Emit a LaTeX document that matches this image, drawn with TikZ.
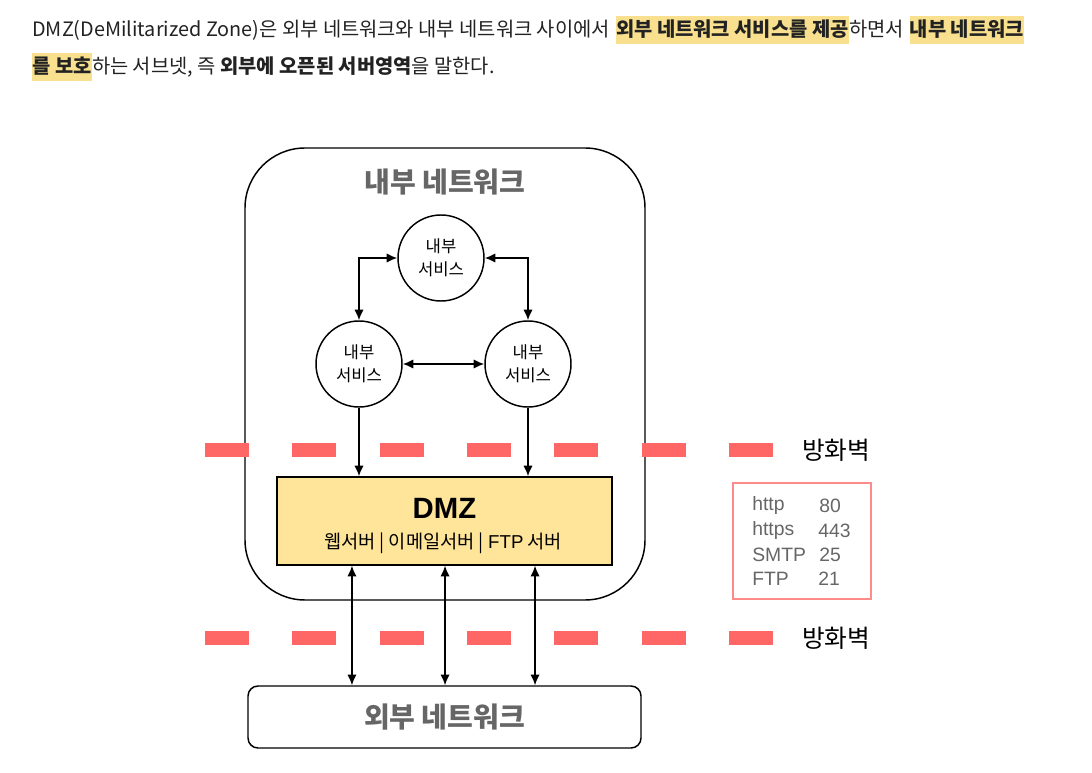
\documentclass[tikz,border=0pt]{standalone}
\usepackage{fontspec}
\setmainfont{Noto Sans CJK KR}
\newfontfamily\arialf{Liberation Sans}
\usetikzlibrary{arrows.meta,calc}
\definecolor{hlcol}{HTML}{F8E08E}
\definecolor{titlegray}{HTML}{666666}
\definecolor{fwred}{HTML}{FF6666}
\definecolor{portred}{HTML}{FF8A8A}
\definecolor{dmzfill}{HTML}{FFE599}
\definecolor{txt}{HTML}{222222}
\tikzset{
  seg/.style={anchor=base west, inner xsep=0pt, inner ysep=0pt, text height=15.75pt, text depth=5.25pt, font=\fontsize{14.87pt}{17pt}\selectfont, text=txt},
  hl/.style={seg, fill=hlcol},
  svc/.style={circle, draw, line width=1.1pt, minimum size=64.5pt, inner sep=0pt, align=center, font=\fontsize{12.5pt}{17pt}\selectfont},
  conn/.style={line width=1.1pt},
  tip/.style={-{Latex[length=8pt,width=7pt]}},
  tips/.style={{Latex[length=8pt,width=7pt]}-{Latex[length=8pt,width=7pt]}},
  fwlabel/.style={anchor=west, font=\fontsize{18.5pt}{20pt}\selectfont, inner sep=0pt},
  porttxt/.style={anchor=west, inner sep=0pt, font=\arialf\fontsize{14.5pt}{16pt}\selectfont, text=titlegray},
}
\begin{document}
\begin{tikzpicture}[x=0.75pt, y=-0.75pt]
\useasboundingbox (0,0) rectangle (1092,773);
% header text
\node[seg] (t1) at (32,37) {DMZ(DeMilitarized Zone)은 외부 네트워크와 내부 네트워크 사이에서\kern0.28em};
\node[hl] (t2) at (t1.base east) {\bfseries 외부 네트워크 서비스를 제공};
\node[seg] (t3) at (t2.base east) {하면서\kern0.28em};
\node[hl] (t4) at (t3.base east) {\bfseries 내부 네트워크};
\node[hl] (t5) at (32,74) {\bfseries 를 보호};
\node[seg] (t6) at (t5.base east) {하는 서브넷, 즉 \textbf{외부에 오픈된 서버영역}을 말한다.};

% inner network
\node[draw, line width=1.1pt, rounded corners=45pt, minimum width=300pt, minimum height=339pt] (inner) at (445,374) {};
\node[font=\bfseries\fontsize{21pt}{24pt}\selectfont, text=titlegray] (innertitle) at (445,182) {내부 네트워크};

\node[svc] (top) at (441,258) {내부\\서비스};
\node[svc] (left) at (359,364) {내부\\서비스};
\node[svc] (right) at (528,364) {내부\\서비스};

\draw[conn, tips] (top.west) -| (left.north);
\draw[conn, tips] (top.east) -| (right.north);
\draw[conn, tips] (left.east) -- (right.west);

% DMZ
\node[draw, line width=1.1pt, fill=dmzfill, minimum width=251.25pt, minimum height=66pt] (dmz) at (444.5,521) {};
\node[font=\arialf\bfseries\fontsize{22pt}{24pt}\selectfont] (dmztitle) at (444.5,508) {DMZ};
\node[font=\fontsize{14pt}{16pt}\selectfont] (dmzsub) at (443,543) {웹서버 | 이메일서버 | {\arialf FTP} 서버};

\draw[conn, tip] (left.south) -- (left.south |- dmz.north);
\draw[conn, tip] (right.south) -- (right.south |- dmz.north);

% firewalls
\foreach \i in {0,...,6} {
  \fill[fwred] ({205+87.3*\i},443) rectangle ({249+87.3*\i},457);
  \fill[fwred] ({205+87.3*\i},631) rectangle ({249+87.3*\i},645);
}
\node[fwlabel] (fw1) at (802,450) {방화벽};
\node[fwlabel] (fw2) at (802,638) {방화벽};

% ports
\node[draw=portred, line width=1.1pt, minimum width=103.5pt, minimum height=87pt] (ports) at (802,541) {};
\node[porttxt] (p1a) at (752,506) {http};
\node[porttxt] (p1b) at (819,506) {80};
\node[porttxt] (p2a) at (752,531) {https};
\node[porttxt] (p2b) at (818,531) {443};
\node[porttxt] (p3a) at (752,555) {SMTP};
\node[porttxt] (p3b) at (819,555) {25};
\node[porttxt] (p4a) at (752,579) {FTP};
\node[porttxt] (p4b) at (818,579) {21};

% external
\node[draw, line width=1.1pt, rounded corners=7.5pt, minimum width=294.75pt, minimum height=46.5pt, font=\bfseries\fontsize{21pt}{24pt}\selectfont, text=titlegray] (ext) at (444.5,717) {외부 네트워크};

\draw[conn, tips] ([xshift=-69.4pt]dmz.south) -- ([xshift=-69.4pt]ext.north);
\draw[conn, tips] ([xshift=0.4pt]dmz.south) -- ([xshift=0.4pt]ext.north);
\draw[conn, tips] ([xshift=67.9pt]dmz.south) -- ([xshift=67.9pt]ext.north);
\end{tikzpicture}
\end{document}
